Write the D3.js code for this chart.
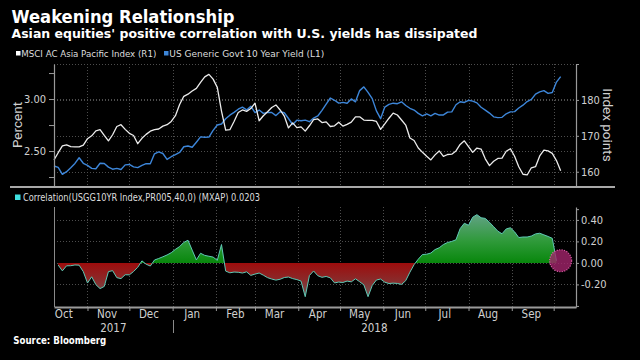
<!DOCTYPE html>
<html><head><meta charset="utf-8">
<script src="https://cdn.jsdelivr.net/npm/d3@7"></script>
<style>
html,body{margin:0;padding:0;background:#000;}
svg{display:block;}
</style></head><body>
<svg id="c" width="640" height="360"></svg>
<script>
// ---- data ----
const dates = d3.timeDay.range(new Date(2017, 9, 8), new Date(2018, 9, 9), 3); // 122 sample dates
const msci = [163.3,165.3,167.2,167.5,167.0,166.9,166.9,167.4,169.2,170.0,
171.4,171.7,170.1,168.6,170.3,172.6,173.1,171.8,170.7,170.1,
167.8,169.3,170.4,171.3,171.7,171.9,172.7,173.1,174.0,175.6,
178.7,181.0,181.6,182.5,183.2,184.9,186.4,187.1,185.8,183.5,
176.9,171.6,171.7,174.0,176.5,177.2,176.8,177.6,179.1,174.2,
175.6,176.7,177.9,178.6,177.2,175.5,172.2,173.6,172.3,172.5,
171.3,172.8,174.5,174.7,173.7,173.9,172.6,172.8,173.8,172.7,
173.2,173.8,175.3,175.3,174.4,174.3,174.3,174.0,171.8,173.3,
174.9,176.3,175.8,174.4,173.0,169.4,168.7,166.6,165.4,164.3,
163.3,164.7,165.8,164.3,164.8,164.9,165.8,167.6,168.6,167.0,
165.4,166.6,166.3,163.6,161.7,162.9,163.7,163.8,165.7,166.4,
164.3,161.4,159.3,159.1,161.1,161.4,164.4,166.0,165.8,165.1,
163.1,160.3];
const ust10 = [2.356,2.343,2.276,2.301,2.339,2.381,2.435,2.382,2.362,2.333,
2.330,2.382,2.380,2.345,2.325,2.333,2.322,2.367,2.371,2.348,
2.340,2.362,2.379,2.377,2.473,2.492,2.476,2.419,2.445,2.465,
2.486,2.541,2.548,2.536,2.585,2.636,2.633,2.634,2.699,2.750,
2.760,2.810,2.845,2.872,2.902,2.922,2.895,2.931,2.870,2.894,
2.862,2.872,2.870,2.841,2.878,2.868,2.813,2.755,2.797,2.791,
2.797,2.782,2.817,2.837,2.891,2.952,3.010,2.988,2.961,2.968,
2.959,3.001,2.973,3.081,3.117,3.064,3.004,2.886,2.811,2.923,
2.949,2.960,2.955,2.973,2.938,2.911,2.894,2.862,2.839,2.857,
2.839,2.862,2.846,2.847,2.874,2.877,2.945,2.974,2.967,2.988,
2.980,2.963,2.921,2.894,2.865,2.829,2.821,2.824,2.858,2.877,
2.879,2.914,2.941,2.976,2.996,3.047,3.069,3.081,3.055,3.063,
3.163,3.216];
const corr = [null,-0.020,-0.074,-0.027,-0.026,-0.019,-0.021,-0.081,-0.187,-0.129,
-0.202,-0.239,-0.219,-0.081,-0.072,-0.137,-0.146,-0.110,-0.111,-0.080,
-0.041,0.019,-0.012,-0.029,0.027,0.041,0.057,0.074,0.095,0.126,
0.152,0.191,0.211,0.119,0.028,0.090,0.070,0.062,0.054,0.024,
0.171,-0.076,-0.092,-0.085,-0.087,-0.094,-0.083,-0.116,-0.104,-0.094,
-0.114,-0.137,-0.150,-0.160,-0.152,-0.136,-0.131,-0.146,-0.155,-0.169,
-0.314,-0.117,-0.075,-0.119,-0.134,-0.126,-0.139,-0.186,-0.178,-0.182,
-0.169,-0.176,-0.148,-0.175,-0.204,-0.314,-0.210,-0.159,-0.150,-0.179,
-0.192,-0.188,-0.191,-0.200,-0.165,-0.086,-0.016,0.035,0.078,0.081,
0.092,0.124,0.141,0.171,0.190,0.200,0.215,0.319,0.369,0.350,
0.425,0.449,0.420,0.414,0.378,0.337,0.295,0.271,0.316,0.327,
0.289,0.236,0.241,0.241,0.250,0.270,0.276,0.261,0.246,0.229,
0.0203,null];
const monthLabels = ["Oct","Nov","Dec","Jan","Feb","Mar","Apr","May","Jun","Jul","Aug","Sep"];
const yearLabels = ["2017","2018"];
const leftTicks = [2.25,2.50,2.75,3.00,3.25];
const rightTicks = [160,170,180,190];
const corrTicks = [-0.4,-0.2,0,0.2,0.4,0.5];

const title = "Weakening Relationship";
const subtitle = "Asian equities' positive correlation with U.S. yields has dissipated";
const legend1 = "MSCI AC Asia Pacific Index  (R1)";
const legend2 = "US Generic Govt 10 Year Yield  (L1)";
const legend3 = "Correlation(USGG10YR Index,PR005,40,0) (MXAP) 0.0203";
const source = "Source: Bloomberg";

// ---- drawing ----
const COND = '"Liberation Sans Narrow","DejaVu Sans Condensed","Roboto Condensed",Roboto,sans-serif';
const BOLD = '"DejaVu Sans",Verdana,sans-serif';
const svg = d3.select("#c");
svg.append("rect").attr("width",640).attr("height",360).attr("fill","#000");

const x = d3.scaleTime().domain([new Date(2017,9,8), new Date(2018,9,17)]).range([54,576]);
const yL = d3.scaleLinear().domain([2.154,3.337]).range([187,64]);
const yR = d3.scaleLinear().domain([155.75,190]).range([187,64]);
const yC = d3.scaleLinear().domain([-0.41,0.52]).range([307,207]);

const monthBounds = d3.timeMonth.range(new Date(2017,10,1), new Date(2018,9,2));
const monthMids = monthLabels.map((m,i)=>d3.timeMonth.offset(new Date(2017,9,15), i));
const jan1 = new Date(2018,0,1);

// titles
svg.append("text").attr("x",11.5).attr("y",22.7).text(title)
  .attr("fill","#fff").attr("font-family",BOLD).attr("font-weight","bold").attr("font-size",18)
  .attr("textLength",223).attr("lengthAdjust","spacingAndGlyphs");
svg.append("text").attr("x",11.5).attr("y",37.8).text(subtitle)
  .attr("fill","#fff").attr("font-family",BOLD).attr("font-weight","bold").attr("font-size",12.5)
  .attr("textLength",466).attr("lengthAdjust","spacingAndGlyphs");

// top legend
svg.append("rect").attr("x",16).attr("y",51).attr("width",4.5).attr("height",4.5).attr("fill","#fff");
svg.append("text").attr("x",21.3).attr("y",56.5).text(legend1).attr("fill","#ddd")
  .attr("font-family",COND).attr("font-size",9.5).attr("textLength",135).attr("lengthAdjust","spacingAndGlyphs");
svg.append("rect").attr("x",164).attr("y",51).attr("width",4.5).attr("height",4.5).attr("fill","#3d86d9");
svg.append("text").attr("x",169.3).attr("y",56.5).text(legend2).attr("fill","#ddd")
  .attr("font-family",COND).attr("font-size",9.5).attr("textLength",155).attr("lengthAdjust","spacingAndGlyphs");

const grid = svg.append("g").attr("stroke","#4d4d4d").attr("stroke-width",1).attr("stroke-dasharray","1,2");
// top panel grid
grid.selectAll(".vt").data(monthBounds).join("line")
  .attr("x1",d=>Math.round(x(d))+0.5).attr("x2",d=>Math.round(x(d))+0.5).attr("y1",64).attr("y2",187);
grid.selectAll(".hr").data(rightTicks).join("line").attr("class","hr")
  .attr("x1",54).attr("x2",576).attr("y1",d=>Math.round(yR(d))+0.5).attr("y2",d=>Math.round(yR(d))+0.5);
grid.selectAll(".hl").data([2.5,3.0]).join("line").attr("class","hl")
  .attr("x1",54).attr("x2",576).attr("y1",d=>Math.round(yL(d))+0.5).attr("y2",d=>Math.round(yL(d))+0.5);
// bottom panel grid
grid.selectAll(".vb").data(monthBounds).join("line").attr("class","vb")
  .attr("x1",d=>Math.round(x(d))+0.5).attr("x2",d=>Math.round(x(d))+0.5).attr("y1",207).attr("y2",307);
grid.selectAll(".hc").data([-0.2,0,0.2,0.4]).join("line").attr("class","hc")
  .attr("x1",54).attr("x2",576).attr("y1",d=>Math.round(yC(d))+0.5).attr("y2",d=>Math.round(yC(d))+0.5);

// lines
const blueLine = d3.line().x((d,i)=>x(dates[i])).y(d=>yL(d));
const whiteLine = d3.line().x((d,i)=>x(dates[i])).y(d=>yR(d));
svg.append("path").datum(ust10).attr("d",blueLine).attr("fill","none").attr("stroke","#3d86d9").attr("stroke-width",1.4).attr("stroke-linejoin","round");
svg.append("path").datum(msci).attr("d",whiteLine).attr("fill","none").attr("stroke","#ececec").attr("stroke-width",1.3).attr("stroke-linejoin","round");

// correlation area with gradient
const defs = svg.append("defs");
const gTop = yC(0.45), gBot = yC(-0.32), z = yC(0);
const zf = (z-gTop)/(gBot-gTop);
const grad = defs.append("linearGradient").attr("id","cg").attr("gradientUnits","userSpaceOnUse")
  .attr("x1",0).attr("x2",0).attr("y1",gTop).attr("y2",gBot);
[[0,"#62a285"],[zf*0.55,"#2f9a3a"],[zf,"#08870c"],[zf,"#9e0c0c"],[zf+(1-zf)*0.5,"#8a2a2a"],[1,"#6f5a5a"]]
  .forEach(([o,c])=>grad.append("stop").attr("offset",o).attr("stop-color",c));
const corrData = corr.map((v,i)=>({date:dates[i], v}));
const area = d3.area().defined(d=>d.v!==null).x(d=>x(d.date)).y0(yC(0)).y1(d=>yC(d.v));
svg.append("path").datum(corrData).attr("d",area).attr("fill","url(#cg)");
const cline = d3.line().defined(d=>d.v!==null).x(d=>x(d.date)).y(d=>yC(d.v));
svg.append("path").datum(corrData).attr("d",cline).attr("fill","none").attr("stroke","#5fc9b5").attr("stroke-width",1);

// highlight circle at the latest reading
const lastIdx = corr.length-2;
svg.append("circle").attr("cx",x(dates[dates.length-1])).attr("cy",yC(corr[lastIdx])).attr("r",11)
  .attr("fill","#a3246c").attr("fill-opacity",0.8).attr("stroke","#e860b0").attr("stroke-width",1.2).attr("stroke-dasharray","1,1.5");

// axes
function styleAxis(g){
  g.select(".domain").attr("stroke","#9a9a9a").attr("stroke-width",1.2);
  g.selectAll(".tick line").attr("stroke","#9a9a9a");
  g.selectAll(".tick text").attr("fill","#d0d0d0").attr("font-family",COND).attr("font-size",11);
}
const axL = svg.append("g").attr("transform","translate(54,0)")
  .call(d3.axisLeft(yL).tickValues(leftTicks).tickSize(5).tickSizeOuter(0).tickPadding(3)
    .tickFormat(d=>(Math.round(d*100)%50===0)?d.toFixed(2):""));
styleAxis(axL);
const axR = svg.append("g").attr("transform","translate(576,0)")
  .call(d3.axisRight(yR).tickValues(rightTicks).tickSize(3).tickSizeOuter(0).tickPadding(2)
    .tickFormat(d=>d===190?"":d));
styleAxis(axR);
const axC = svg.append("g").attr("transform","translate(576,0)")
  .call(d3.axisRight(yC).tickValues(corrTicks).tickSize(3).tickSizeOuter(0).tickPadding(2)
    .tickFormat(d=>(d<-0.3||d>0.45)?"":d.toFixed(2)));
styleAxis(axC);
// left border of bottom panel
svg.append("line").attr("x1",54.5).attr("x2",54.5).attr("y1",207).attr("y2",307).attr("stroke","#8a8a8a");

// panel separator
svg.append("line").attr("x1",10).attr("x2",615).attr("y1",187).attr("y2",187).attr("stroke","#a8a8a8").attr("stroke-width",2);

// bottom time axis
const axX = svg.append("g").attr("transform","translate(0,307)")
  .call(d3.axisBottom(x).tickValues(monthBounds).tickSize(4).tickSizeOuter(0).tickFormat(""));
styleAxis(axX);
axX.select(".domain").attr("stroke-width",2);
svg.selectAll(".mlab").data(monthMids).join("text").attr("class","mlab")
  .attr("x",d=>x(d)).attr("y",318).attr("text-anchor","middle").text((d,i)=>monthLabels[i])
  .attr("fill","#d0d0d0").attr("font-family",COND).attr("font-size",11.5);
const yearPos = [(x.range()[0]+x(jan1))/2, (x(jan1)+x.range()[1])/2];
svg.selectAll(".ylab").data(yearLabels).join("text").attr("class","ylab")
  .attr("x",(d,i)=>yearPos[i]).attr("y",331.5).attr("text-anchor","middle").text(d=>d)
  .attr("fill","#d0d0d0").attr("font-family",COND).attr("font-size",11.5);
svg.append("line").attr("x1",Math.round(x(jan1))+0.5).attr("x2",Math.round(x(jan1))+0.5)
  .attr("y1",320).attr("y2",333).attr("stroke","#8a8a8a");

// axis titles
svg.append("text").attr("transform","translate(22,125) rotate(-90)").attr("text-anchor","middle")
  .text("Percent").attr("fill","#d0d0d0").attr("font-family","Roboto,sans-serif").attr("font-size",13.5);
svg.append("text").attr("transform","translate(603,125) rotate(90)").attr("text-anchor","middle")
  .text("Index points").attr("fill","#d0d0d0").attr("font-family","Roboto,sans-serif").attr("font-size",13.5);

// bottom legend
svg.append("rect").attr("x",15).attr("y",194.5).attr("width",5.5).attr("height",5.5).attr("fill","#3fe0e0");
svg.append("text").attr("x",23).attr("y",200.8).text(legend3).attr("fill","#ddd")
  .attr("font-family",COND).attr("font-size",10.5).attr("textLength",237).attr("lengthAdjust","spacingAndGlyphs");

// source
svg.append("text").attr("x",13.3).attr("y",343.5).text(source).attr("fill","#fff")
  .attr("font-family",BOLD).attr("font-weight","bold").attr("font-size",10)
  .attr("textLength",93).attr("lengthAdjust","spacingAndGlyphs");
</script>
</body></html>
